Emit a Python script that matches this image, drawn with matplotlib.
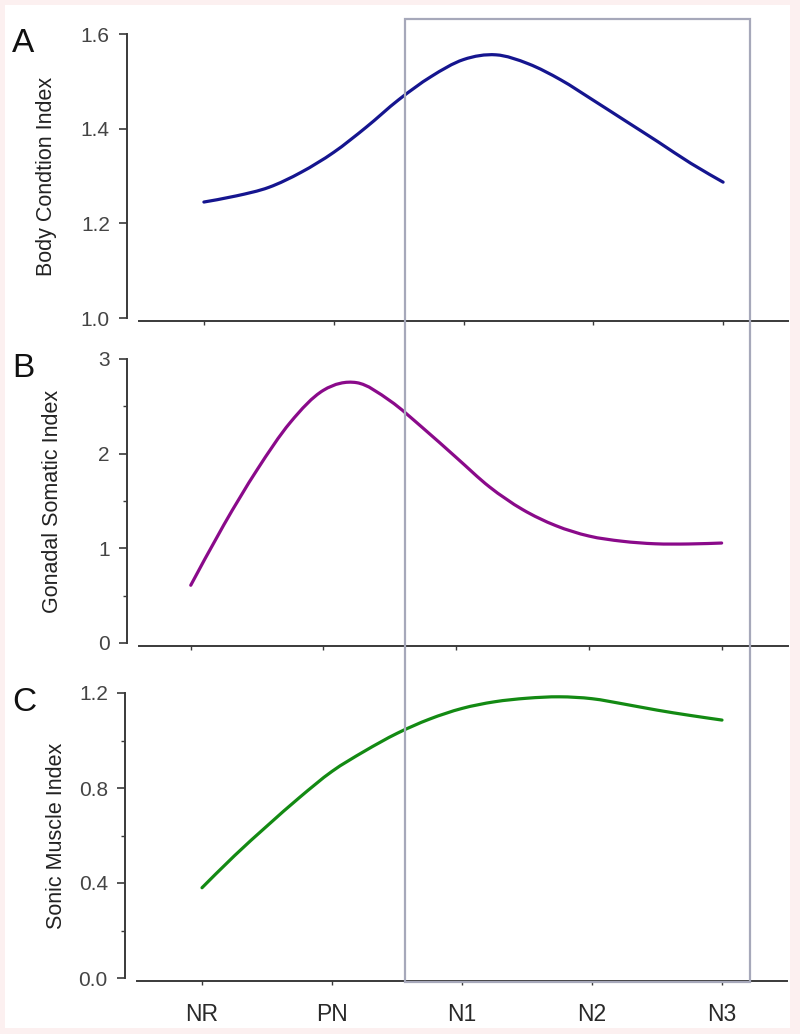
import matplotlib.pyplot as plt
from matplotlib.patches import Rectangle, PathPatch
from matplotlib.path import Path

plt.rcParams['font.family'] = ['Liberation Sans', 'DejaVu Sans']

# stages along the x axis
stages = ['NR', 'PN', 'N1', 'N2', 'N3']
stage_pos = [0, 1, 2, 3, 4]

# points (quarter steps between stages)
x_fit = [0, 0.25, 0.5, 0.75, 1, 1.25, 1.5, 1.75, 2, 2.25, 2.5, 2.75, 3, 3.25, 3.5, 3.75, 4]
body_condition = [1.245, 1.258, 1.276, 1.308, 1.35, 1.403, 1.461, 1.51, 1.546,
                  1.556, 1.537, 1.503, 1.46, 1.416, 1.372, 1.327, 1.287]
gonadal_somatic = [0.61, 1.25, 1.83, 2.33, 2.67, 2.75, 2.56, 2.27, 1.96,
                   1.65, 1.41, 1.24, 1.13, 1.075, 1.048, 1.046, 1.056]
sonic_muscle = [0.38, 0.515, 0.64, 0.76, 0.87, 0.955, 1.03, 1.09, 1.135,
                1.163, 1.178, 1.184, 1.176, 1.153, 1.128, 1.106, 1.086]

W, H = 800, 1034
fig = plt.figure(figsize=(W / 100, H / 100), dpi=100, facecolor='#fcf0f0')
fig.patches.append(Rectangle((5 / W, 1 - 1028 / H), 785 / W, 1023 / H,
                             transform=fig.transFigure, facecolor='white',
                             edgecolor='none', zorder=-10))


def px_axes(left, top, right, bottom):
    return fig.add_axes([left / W, 1 - bottom / H, (right - left) / W, (bottom - top) / H])


def smooth_path(xs, ys):
    # Catmull-Rom through the read points, drawn as cubic Bezier segments
    n = len(xs)
    verts = [(xs[0], ys[0])]
    codes = [Path.MOVETO]
    for i in range(n - 1):
        i0, i2, i3 = max(i - 1, 0), i + 1, min(i + 2, n - 1)
        c1 = (xs[i] + (xs[i2] - xs[i0]) / 6, ys[i] + (ys[i2] - ys[i0]) / 6)
        c2 = (xs[i2] - (xs[i3] - xs[i]) / 6, ys[i2] - (ys[i3] - ys[i]) / 6)
        verts += [c1, c2, (xs[i2], ys[i2])]
        codes += [Path.CURVE4] * 3
    return Path(verts, codes)


panels = [
    # letter, label, values, colour, (l, t, r, b), xlim, ylim, major, minor, fmt, label x
    ('A', 'Body Condtion Index', body_condition, '#15158f', (139, 34, 788, 318),
     (-0.5, 4.5), (1.0, 1.6), [1.0, 1.2, 1.4, 1.6], [], '{:.1f}', 47),
    ('B', 'Gonadal Somatic Index', gonadal_somatic, '#8a0a8a', (139, 359, 788, 643),
     (-0.39, 4.5), (0, 3), [0, 1, 2, 3], [0.5, 1.5, 2.5], '{:.0f}', 53),
    ('C', 'Sonic Muscle Index', sonic_muscle, '#138a13', (137, 693, 787, 978),
     (-0.5, 4.5), (0, 1.2), [0.0, 0.4, 0.8, 1.2], [0.2, 0.6, 1.0], '{:.1f}', 56),
]

axis_col = '#3a3a3a'
for i, (letter, label, vals, col, box, xlim, ylim, major, minor, fmt, lab_x) in enumerate(panels):
    ax = px_axes(*box)
    ax.add_patch(PathPatch(smooth_path(x_fit, vals), fill=False, edgecolor=col,
                           lw=2.3, capstyle='round', joinstyle='round'))
    ax.set_xlim(*xlim)
    ax.set_ylim(*ylim)
    ax.patch.set_alpha(0)

    for s in ['top', 'right']:
        ax.spines[s].set_visible(False)
    ax.spines['left'].set_position(('outward', 9))
    ax.spines['bottom'].set_position(('outward', 2))
    for s in ['left', 'bottom']:
        ax.spines[s].set_color(axis_col)
        ax.spines[s].set_linewidth(1.4)

    ax.set_yticks(major)
    ax.set_yticklabels([fmt.format(v) for v in major], fontsize=15, color='#444444')
    ax.set_yticks(minor, minor=True)
    ax.tick_params(axis='y', which='major', length=6, width=1.2, color=axis_col, pad=6)
    ax.tick_params(axis='y', which='minor', length=3, width=1.0, color=axis_col)

    ax.set_xticks(stage_pos)
    ax.tick_params(axis='x', length=3, width=1.0, color=axis_col, pad=13)
    if i == 2:
        ax.set_xticklabels(stages, fontsize=16.5, color='#2a2a2a')
    else:
        ax.set_xticklabels([])

    l, t, r, b = box
    fig.text(lab_x / W, 1 - (t + b) / 2 / H, label, rotation=90, ha='center', va='center',
             fontsize=15.5, color='#222222')
    fig.text(12 / W, 1 - (t - 6) / H, letter, ha='left', va='top', fontsize=24, color='#111111')

# highlighted nesting period
fig.patches.append(Rectangle((405 / W, 1 - 982 / H), 345 / W, 963 / H,
                             transform=fig.transFigure, fill=False,
                             edgecolor='#a6a8ba', linewidth=1.6, zorder=5))

fig.savefig('out.png', dpi=100, facecolor=fig.get_facecolor())
